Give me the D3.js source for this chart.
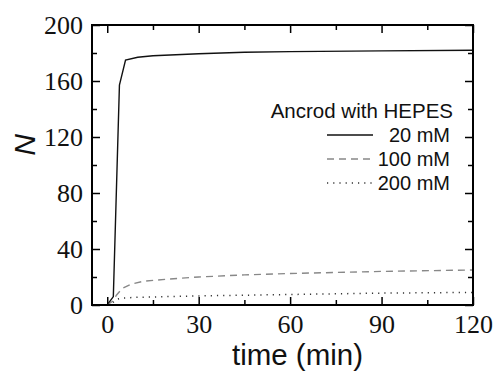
<!DOCTYPE html>
<html>
<head>
<meta charset="utf-8">
<script src="https://cdn.jsdelivr.net/npm/d3@7"></script>
<style>
  body { margin: 0; background: #fff; }
</style>
</head>
<body>
<script>
// Time (min) and N for each HEPES concentration
const time20 = [0, 2, 4, 6, 10, 15, 30, 45, 60, 90, 120];
const n20 = [0, 6, 157, 175, 177, 178, 179.5, 180.5, 181, 181.5, 182];

const time100 = [0, 2, 3, 5, 8, 12, 20, 30, 45, 60, 90, 120];
const n100 = [0, 3, 7, 12, 15, 17, 18.5, 20, 21.5, 22.5, 24, 25];

const time200 = [0, 2, 3, 5, 10, 30, 60, 90, 120];
const n200 = [0, 2, 4, 5, 5.5, 6.5, 7.5, 8.5, 9];

const xTicks = [0, 30, 60, 90, 120];
const yTicks = [0, 40, 80, 120, 160, 200];

const series = [
  {label: "20 mM", t: time20, n: n20, color: "#111", dash: null, width: 1.4},
  {label: "100 mM", t: time100, n: n100, color: "#888", dash: "7,5", width: 1.4},
  {label: "200 mM", t: time200, n: n200, color: "#333", dash: "1.2,5", width: 1.5},
];

const width = 494, height = 373;
const margin = {top: 25, right: 21, bottom: 68, left: 92};
const innerW = width - margin.left - margin.right;
const innerH = height - margin.top - margin.bottom;

const x = d3.scaleLinear().domain([-5, 120]).range([0, innerW]);
const y = d3.scaleLinear().domain([0, 200]).range([innerH, 0]);

const svg = d3.select("body").append("svg")
  .attr("width", width).attr("height", height);

const g = svg.append("g").attr("transform", `translate(${margin.left},${margin.top})`);

// Curves
const line = d3.line().x(d => x(d[0])).y(d => y(d[1]));
for (const s of series) {
  g.append("path")
    .datum(d3.zip(s.t, s.n))
    .attr("d", line)
    .attr("fill", "none")
    .attr("stroke", s.color)
    .attr("stroke-width", s.width)
    .attr("stroke-dasharray", s.dash);
}

// Ticks inward on all four sides, minor ticks between labels
const serif = "'Liberation Serif', 'Times New Roman', serif";
const sans = "'Liberation Sans', Arial, sans-serif";
const minorX = d3.range(15, 120, 30);
const minorY = d3.range(20, 200, 40);

function styleAxis(sel) {
  sel.select(".domain").remove();
  sel.selectAll("line").attr("stroke", "#000").attr("stroke-width", 1.5);
  sel.selectAll("text")
    .style("font-family", serif).style("font-size", "26px").attr("fill", "#111");
}

g.append("g").attr("transform", `translate(0,${innerH})`)
  .call(d3.axisBottom(x).tickValues(xTicks).tickSize(-8).tickPadding(6))
  .call(styleAxis)
  .selectAll("text").attr("dy", null).attr("y", 28);
g.append("g").attr("transform", `translate(0,${innerH})`)
  .call(d3.axisBottom(x).tickValues(minorX).tickSize(-5).tickFormat(""))
  .call(styleAxis);
g.append("g")
  .call(d3.axisTop(x).tickValues(xTicks).tickSize(-8).tickFormat(""))
  .call(styleAxis);
g.append("g")
  .call(d3.axisTop(x).tickValues(minorX).tickSize(-5).tickFormat(""))
  .call(styleAxis);

g.append("g")
  .call(d3.axisLeft(y).tickValues(yTicks).tickSize(-8).tickPadding(0))
  .call(styleAxis)
  .selectAll("text").attr("x", -9);
g.append("g")
  .call(d3.axisLeft(y).tickValues(minorY).tickSize(-5).tickFormat(""))
  .call(styleAxis);
g.append("g").attr("transform", `translate(${innerW},0)`)
  .call(d3.axisRight(y).tickValues(yTicks).tickSize(-8).tickFormat(""))
  .call(styleAxis);
g.append("g").attr("transform", `translate(${innerW},0)`)
  .call(d3.axisRight(y).tickValues(minorY).tickSize(-5).tickFormat(""))
  .call(styleAxis);

// Frame
g.append("rect")
  .attr("width", innerW).attr("height", innerH)
  .attr("fill", "none").attr("stroke", "#000").attr("stroke-width", 2);

// Axis titles
g.append("text")
  .attr("x", 297.5 - margin.left).attr("y", 365 - margin.top)
  .attr("text-anchor", "middle").style("font-family", sans).style("font-size", "29.5px")
  .attr("fill", "#111")
  .text("time (min)");
g.append("text")
  .attr("transform", "rotate(-90)")
  .attr("x", -(145 - margin.top)).attr("y", 35 - margin.left)
  .attr("text-anchor", "middle").style("font-family", sans).style("font-style", "italic")
  .style("font-size", "30px").attr("fill", "#111")
  .text("N");

// Legend
const legRight = 450 - margin.left;
g.append("text")
  .attr("x", legRight + 3).attr("y", 118 - margin.top)
  .attr("text-anchor", "end").style("font-family", sans).style("font-size", "20.5px")
  .attr("fill", "#111")
  .text("Ancrod with HEPES");
series.forEach((s, i) => {
  const yy = 135 - margin.top + i * 24;
  g.append("line")
    .attr("x1", 327 - margin.left).attr("x2", 373 - margin.left)
    .attr("y1", yy).attr("y2", yy)
    .attr("stroke", s.color).attr("stroke-width", s.width)
    .attr("stroke-dasharray", s.dash);
  g.append("text")
    .attr("x", legRight).attr("y", yy).attr("dy", "0.36em")
    .attr("text-anchor", "end").style("font-family", sans).style("font-size", "20px")
    .attr("fill", "#111")
    .text(s.label);
});
</script>
</body>
</html>
